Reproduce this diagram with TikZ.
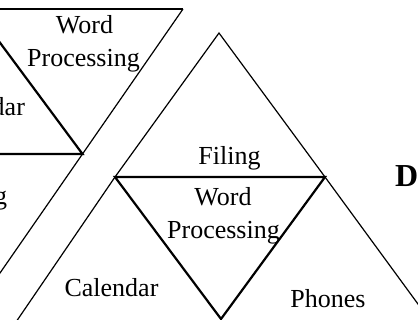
\documentclass[tikz,border=0pt]{standalone}
\usepackage{fontspec}
\setmainfont{Liberation Serif}
\begin{document}
\begin{tikzpicture}[x=1pt,y=-1pt,
  thinline/.style={line width=1.2pt,line join=miter},
  thickline/.style={line width=2.2pt,line join=miter},
  lbl/.style={anchor=base,inner sep=0pt,font=\fontsize{26}{32}\selectfont},
  big/.style={anchor=base west,inner sep=0pt,font=\fontsize{32}{38}\selectfont\bfseries}]
\useasboundingbox (0,0) rectangle (418,320);
\clip (0,0) rectangle (418,320);
% right structure
\coordinate (A) at (219,33);
\coordinate (ML) at (115,177);
\coordinate (MR) at (325,177);
\coordinate (B) at (221,319);
\draw[thinline] (16,322) -- (ML) -- (A) -- (MR) -- (437,330);
\draw[thickline] (ML) -- (MR) -- (B) -- cycle;
% left structure
\coordinate (C) at (183,9);
\coordinate (V) at (82.5,154);
\draw[thickline] (-5,9) -- (C);
\draw[thinline] (C) -- (V) -- (-39.5,330);
\draw[thickline] (-25,9) -- (V) -- (-5,154);
% labels
\node[lbl] (lw) at (84.5,34) {Word};
\node[lbl] (lp) at (83.5,67) {Processing};
\node[lbl] (lc) at (-22,116) {Calendar};
\node[lbl] (lf) at (-24,205) {Filing};
\node[lbl] (rf) at (229.5,165) {Filing};
\node[lbl] (rw) at (223,206) {Word};
\node[lbl] (rp) at (223.5,239) {Processing};
\node[lbl] (rc) at (111.5,297) {Calendar};
\node[lbl] (rph) at (328,308) {Phones};
\node[big] (d) at (395,187) {D};
\end{tikzpicture}
\end{document}
